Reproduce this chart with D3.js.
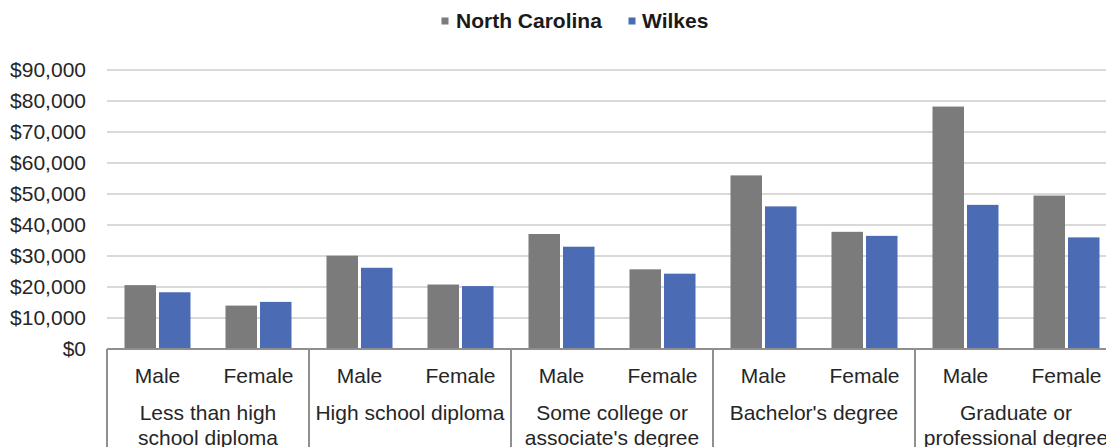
<!DOCTYPE html>
<html>
<head>
<meta charset="utf-8">
<script src="https://cdn.jsdelivr.net/npm/d3@7"></script>
<style>
  html, body { margin: 0; padding: 0; background: #fff; }
  svg { display: block; font-family: "Liberation Sans", Arial, sans-serif; }
</style>
</head>
<body>
<svg id="chart" width="1106" height="447"></svg>
<script>
// Median earnings by educational attainment and sex
const categories = [
  "Less than high school diploma",
  "High school diploma",
  "Some college or associate's degree",
  "Bachelor's degree",
  "Graduate or professional degree"
];
const categoryLines = [
  ["Less than high", "school diploma"],
  ["High school diploma"],
  ["Some college or", "associate's degree"],
  ["Bachelor's degree"],
  ["Graduate or", "professional degree"]
];
const sexes = ["Male", "Female"];
const seriesNames = ["North Carolina", "Wilkes"];
// values per category, in order Male, Female
const northCarolina = [20600, 14000, 30100, 20800, 37100, 25700, 56000, 37800, 78200, 49500];
const wilkes        = [18300, 15200, 26200, 20300, 33000, 24300, 46000, 36500, 46500, 36000];
const yTicks = [0, 10000, 20000, 30000, 40000, 50000, 60000, 70000, 80000, 90000];

const colors = { "North Carolina": "#7b7b7b", "Wilkes": "#4b6bb4" };

const svg = d3.select("#chart");
const left = 107, right = 1117, baseY = 349, topY = 70;
const fontSize = 21;
const textColor = "#262626";

const x0 = d3.scaleBand().domain(categories).range([left, right]).padding(0);
const x1 = d3.scaleBand().domain(sexes).range([0, x0.bandwidth()]).padding(0);
const x2 = d3.scaleBand().domain(seriesNames).range([17.5, x1.bandwidth() - 17.5]).paddingInner(0.087);
const y = d3.scaleLinear().domain([0, 90000]).range([baseY, topY]);

// gridlines
svg.append("g").selectAll("line").data(yTicks.filter(d => d > 0)).join("line")
  .attr("x1", left).attr("x2", right)
  .attr("y1", d => y(d)).attr("y2", d => y(d))
  .attr("stroke", "#d9d9d9").attr("stroke-width", 2);

// y axis labels
const yAxis = d3.axisLeft(y).tickValues(yTicks)
  .tickFormat(d => "$" + d3.format(",")(d)).tickSize(0).tickPadding(0);
const ya = svg.append("g").attr("transform", "translate(86,0)").call(yAxis);
ya.select(".domain").remove();
ya.selectAll("text").attr("font-size", fontSize).attr("fill", textColor)
  .attr("font-family", "'Liberation Sans', Arial, sans-serif");

// bars
const rows = [];
categories.forEach((c, ci) => {
  sexes.forEach((s, si) => {
    const i = ci * 2 + si;
    rows.push({ cat: c, sex: s, series: "North Carolina", value: northCarolina[i] });
    rows.push({ cat: c, sex: s, series: "Wilkes", value: wilkes[i] });
  });
});
svg.append("g").selectAll("rect").data(rows).join("rect")
  .attr("x", d => x0(d.cat) + x1(d.sex) + x2(d.series))
  .attr("width", x2.bandwidth())
  .attr("y", d => y(d.value))
  .attr("height", d => y(0) - y(d.value))
  .attr("fill", d => colors[d.series]);

// category axis: baseline and group separators
const axisColor = "#8f8f8f";
svg.append("line").attr("x1", left).attr("x2", right)
  .attr("y1", baseY).attr("y2", baseY)
  .attr("stroke", axisColor).attr("stroke-width", 2);
const bounds = categories.map(c => x0(c)).concat([right]);
svg.append("g").selectAll("line").data(bounds).join("line")
  .attr("x1", d => d).attr("x2", d => d)
  .attr("y1", baseY).attr("y2", 447)
  .attr("stroke", axisColor).attr("stroke-width", 2);

// sex labels
const sexLabels = [];
categories.forEach(c => sexes.forEach(s => sexLabels.push({ cat: c, sex: s })));
svg.append("g").selectAll("text").data(sexLabels).join("text")
  .attr("x", d => x0(d.cat) + x1(d.sex) + x1.bandwidth() / 2)
  .attr("y", 383)
  .attr("text-anchor", "middle").attr("font-size", fontSize).attr("fill", textColor)
  .text(d => d.sex);

// category labels
const catG = svg.append("g").selectAll("text").data(categories).join("text")
  .attr("x", d => x0(d) + x0.bandwidth() / 2)
  .attr("y", 420)
  .attr("text-anchor", "middle").attr("font-size", fontSize).attr("fill", textColor);
catG.selectAll("tspan").data((d, i) => categoryLines[i].map(t => ({ t, x: x0(d) + x0.bandwidth() / 2 }))).join("tspan")
  .attr("x", d => d.x).attr("dy", (d, i) => i === 0 ? 0 : 24.5)
  .text(d => d.t);

// legend
const legend = [
  { name: "North Carolina", mx: 441.5, tx: 456 },
  { name: "Wilkes", mx: 628.5, tx: 642 }
];
const lg = svg.append("g").selectAll("g").data(legend).join("g");
lg.append("rect").attr("x", d => d.mx).attr("y", 17.5).attr("width", 7).attr("height", 7)
  .attr("fill", d => colors[d.name]);
lg.append("text").attr("x", d => d.tx).attr("y", 28)
  .attr("font-size", fontSize).attr("font-weight", "bold").attr("fill", "#1a1a1a")
  .text(d => d.name);
</script>
</body>
</html>
